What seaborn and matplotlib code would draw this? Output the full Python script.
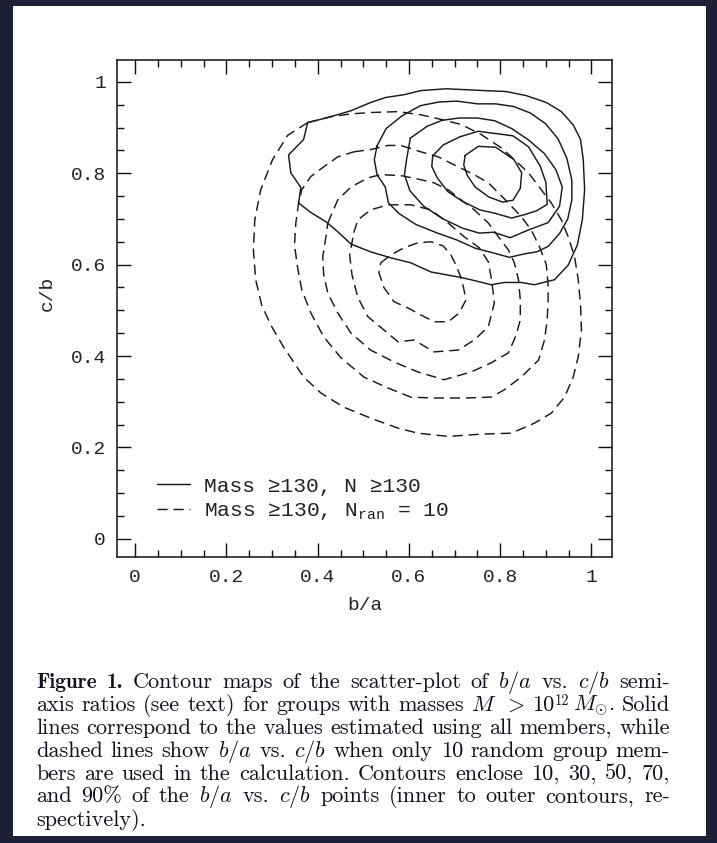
import re
import matplotlib
matplotlib.use("Agg")
import matplotlib.pyplot as plt
from matplotlib.lines import Line2D
from matplotlib.patches import Rectangle
from matplotlib.ticker import MultipleLocator, FuncFormatter
import pandas as pd
import seaborn as sns

# ---- contour data: (b/a, c/b) vertices of each enclosing contour ----
# all members (solid), levels enclose 10, 30, 50, 70, 90 per cent
solid_10_ba = [0.723, 0.752, 0.790, 0.830, 0.847, 0.844, 0.828, 0.805, 0.775, 0.745, 0.728, 0.720]
solid_10_cb = [0.839, 0.859, 0.857, 0.830, 0.801, 0.767, 0.741, 0.737, 0.748, 0.770, 0.795, 0.818]

solid_30_ba = [0.652, 0.675, 0.712, 0.752, 0.790, 0.828, 0.862, 0.888, 0.900, 0.903, 0.880, 0.855,
               0.825, 0.790, 0.755, 0.718, 0.685, 0.662, 0.650]
solid_30_cb = [0.838, 0.862, 0.880, 0.892, 0.887, 0.882, 0.858, 0.815, 0.780, 0.732, 0.718, 0.710,
               0.702, 0.712, 0.720, 0.738, 0.760, 0.790, 0.815]

solid_50_ba = [0.603, 0.640, 0.673, 0.710, 0.750, 0.788, 0.825, 0.862, 0.897, 0.922, 0.936, 0.930,
               0.905, 0.862, 0.822, 0.785, 0.754, 0.717, 0.675, 0.632, 0.602, 0.590, 0.595]
solid_50_cb = [0.877, 0.903, 0.916, 0.921, 0.921, 0.915, 0.898, 0.873, 0.843, 0.808, 0.770, 0.728,
               0.692, 0.676, 0.659, 0.671, 0.669, 0.680, 0.700, 0.728, 0.762, 0.797, 0.832]

solid_70_ba = [0.530, 0.550, 0.585, 0.625, 0.665, 0.705, 0.750, 0.790, 0.830, 0.866, 0.900, 0.927,
               0.946, 0.957, 0.957, 0.948, 0.930, 0.905, 0.880, 0.855, 0.820, 0.780, 0.745, 0.705,
               0.660, 0.615, 0.578, 0.555, 0.548, 0.530, 0.524]
solid_70_cb = [0.860, 0.898, 0.926, 0.948, 0.956, 0.958, 0.952, 0.952, 0.946, 0.932, 0.908, 0.875,
               0.833, 0.785, 0.742, 0.700, 0.668, 0.640, 0.628, 0.624, 0.616, 0.627, 0.636, 0.654,
               0.670, 0.688, 0.712, 0.735, 0.770, 0.797, 0.830]

solid_90_ba = [0.378, 0.422, 0.473, 0.516, 0.549, 0.589, 0.626, 0.681, 0.725, 0.765, 0.813, 0.857,
               0.901, 0.934, 0.960, 0.976, 0.982, 0.985, 0.980, 0.969, 0.949, 0.919, 0.875, 0.846,
               0.809, 0.780, 0.736, 0.708, 0.648, 0.604, 0.560, 0.516, 0.473, 0.444, 0.418, 0.385,
               0.358, 0.363, 0.341, 0.336, 0.369]
solid_90_cb = [0.911, 0.922, 0.937, 0.955, 0.966, 0.972, 0.981, 0.985, 0.983, 0.981, 0.979, 0.970,
               0.955, 0.935, 0.906, 0.874, 0.830, 0.764, 0.698, 0.643, 0.599, 0.567, 0.556, 0.561,
               0.561, 0.556, 0.567, 0.573, 0.584, 0.604, 0.615, 0.628, 0.645, 0.672, 0.694, 0.714,
               0.735, 0.769, 0.801, 0.840, 0.874]

# ten random members (dashed)
dashed_10_ba = [0.538, 0.560, 0.589, 0.620, 0.648, 0.675, 0.692, 0.703, 0.716, 0.725, 0.710, 0.686,
                0.655, 0.626, 0.598, 0.567, 0.545, 0.534]
dashed_10_cb = [0.604, 0.621, 0.637, 0.648, 0.650, 0.641, 0.621, 0.599, 0.567, 0.523, 0.494, 0.475,
                0.475, 0.490, 0.505, 0.519, 0.550, 0.583]

dashed_30_ba = [0.479, 0.488, 0.516, 0.554, 0.604, 0.648, 0.686, 0.721, 0.754, 0.774, 0.782, 0.787,
                0.774, 0.743, 0.708, 0.655, 0.611, 0.576, 0.545, 0.510, 0.488, 0.475, 0.470]
dashed_30_cb = [0.670, 0.698, 0.720, 0.731, 0.731, 0.720, 0.691, 0.661, 0.637, 0.606, 0.561, 0.516,
                0.464, 0.435, 0.413, 0.409, 0.435, 0.431, 0.457, 0.486, 0.528, 0.578, 0.621]

dashed_50_ba = [0.422, 0.444, 0.473, 0.510, 0.538, 0.582, 0.626, 0.655, 0.686, 0.714, 0.743, 0.774,
                0.796, 0.818, 0.831, 0.840, 0.844, 0.844, 0.835, 0.818, 0.780, 0.736, 0.677, 0.620,
                0.567, 0.516, 0.473, 0.444, 0.422, 0.413, 0.411, 0.418]
dashed_50_cb = [0.691, 0.742, 0.770, 0.790, 0.797, 0.795, 0.786, 0.779, 0.764, 0.742, 0.720, 0.691,
                0.661, 0.632, 0.604, 0.567, 0.523, 0.479, 0.446, 0.407, 0.385, 0.365, 0.348, 0.365,
                0.387, 0.413, 0.450, 0.494, 0.538, 0.578, 0.617, 0.661]

dashed_70_ba = [0.479, 0.516, 0.554, 0.582, 0.626, 0.664, 0.708, 0.743, 0.774, 0.796, 0.818, 0.846,
                0.868, 0.886, 0.901, 0.905, 0.905, 0.903, 0.897, 0.884, 0.846, 0.809, 0.780, 0.721,
                0.655, 0.604, 0.554, 0.501, 0.451, 0.413, 0.385, 0.365, 0.356, 0.349, 0.352, 0.358,
                0.365, 0.385, 0.413, 0.444]
dashed_70_cb = [0.847, 0.852, 0.861, 0.861, 0.847, 0.836, 0.814, 0.797, 0.779, 0.757, 0.735, 0.705,
                0.676, 0.639, 0.600, 0.555, 0.523, 0.479, 0.435, 0.391, 0.354, 0.326, 0.310, 0.308,
                0.308, 0.310, 0.330, 0.354, 0.396, 0.442, 0.494, 0.545, 0.593, 0.643, 0.691, 0.735,
                0.764, 0.793, 0.814, 0.836]

dashed_90_ba = [0.378, 0.429, 0.473, 0.516, 0.576, 0.626, 0.670, 0.714, 0.758, 0.802, 0.831, 0.862,
                0.890, 0.912, 0.934, 0.949, 0.963, 0.971, 0.976, 0.978, 0.971, 0.960, 0.941, 0.912,
                0.875, 0.824, 0.758, 0.686, 0.620, 0.576, 0.516, 0.457, 0.407, 0.369, 0.325, 0.297,
                0.277, 0.264, 0.259, 0.262, 0.275, 0.301, 0.334]
dashed_90_cb = [0.911, 0.924, 0.930, 0.933, 0.935, 0.928, 0.918, 0.907, 0.885, 0.856, 0.830, 0.801,
                0.764, 0.735, 0.698, 0.661, 0.617, 0.567, 0.512, 0.457, 0.398, 0.354, 0.310, 0.275,
                0.253, 0.231, 0.229, 0.224, 0.231, 0.242, 0.264, 0.288, 0.319, 0.354, 0.420, 0.468,
                0.512, 0.567, 0.632, 0.698, 0.764, 0.830, 0.883]

levels = [10, 30, 50, 70, 90]
solid_sets = [(solid_10_ba, solid_10_cb), (solid_30_ba, solid_30_cb), (solid_50_ba, solid_50_cb),
              (solid_70_ba, solid_70_cb), (solid_90_ba, solid_90_cb)]
dashed_sets = [(dashed_10_ba, dashed_10_cb), (dashed_30_ba, dashed_30_cb), (dashed_50_ba, dashed_50_cb),
               (dashed_70_ba, dashed_70_cb), (dashed_90_ba, dashed_90_cb)]

tick_values = [0, 0.2, 0.4, 0.6, 0.8, 1.0]
legend_labels = ["Mass \u2265130, N \u2265130", "Mass \u2265130, N$_\\mathrm{ran}$ = 10"]
x_label, y_label = "b/a", "c/b"

# caption markup: {^..} is a raised superscript, ~ a thin space inside a word
caption_head = ["Figure", "1."]
caption_lines = [
    "Contour maps of the scatter-plot of $b/a$ vs. $c/b$ semi-",
    "axis ratios (see text) for groups with masses $M$ $>$ 10{^12}~$M_{\\odot}$. Solid",
    "lines correspond to the values estimated using all members, while",
    "dashed lines show $b/a$ vs. $c/b$ when only 10 random group mem-",
    "bers are used in the calculation. Contours enclose 10, 30, 50, 70,",
    "and 90% of the $b/a$ vs. $c/b$ points (inner to outer contours, re-",
    "spectively).",
]


def rings(sets):
    frames = []
    for lev, (ba, cb) in zip(levels, sets):
        frames.append(pd.DataFrame({"b/a": list(ba) + [ba[0]],
                                    "c/b": list(cb) + [cb[0]],
                                    "level": lev}))
    return pd.concat(frames, ignore_index=True)


solid_df = rings(solid_sets)
dashed_df = rings(dashed_sets)

# ---- style ----
sns.set_theme(style="ticks")
mono = "Liberation Mono"
plt.rcParams.update({
    "font.family": [mono, "DejaVu Sans"],
    "mathtext.fontset": "custom",
    "mathtext.rm": mono,
    "mathtext.it": mono,
    "axes.linewidth": 1.1,
    "axes.edgecolor": "#111111",
})

ink = "#1a1a1a"
dash = (0, (7, 4))
W, H = 717, 843
fig = plt.figure(figsize=(W / 100, H / 100), dpi=100)
fig.patch.set_facecolor("#1e2037")
fig.add_artist(Rectangle((13 / W, 1 - 836 / H), (706 - 13) / W, (836 - 6) / H,
                         transform=fig.transFigure, facecolor="white", edgecolor="none", zorder=0))

ax = fig.add_axes([117 / W, 1 - 557 / H, (612 - 117) / W, (557 - 60) / H])
ax.set_facecolor("white")

sns.lineplot(data=solid_df, x="b/a", y="c/b", units="level", estimator=None, sort=False,
             color=ink, linewidth=1.05, ax=ax)
sns.lineplot(data=dashed_df, x="b/a", y="c/b", units="level", estimator=None, sort=False,
             color=ink, linewidth=1.05, linestyle=dash, ax=ax)

ax.set_xlim(-0.04, 1.045)
ax.set_ylim(-0.04, 1.048)
for axis in (ax.xaxis, ax.yaxis):
    axis.set_major_locator(MultipleLocator(0.2))
    axis.set_minor_locator(MultipleLocator(0.05))
    axis.set_major_formatter(FuncFormatter(lambda v, p: f"{v:g}"))
ax.set_xticks(tick_values)
ax.set_yticks(tick_values)
ax.tick_params(which="both", direction="in", top=True, right=True, colors="#111111",
               labelcolor="#222222", labelsize=14)
ax.tick_params(which="major", length=10, width=1.0)
ax.tick_params(which="minor", length=5, width=1.0)
ax.tick_params(axis="x", pad=9)
ax.tick_params(axis="y", pad=8)

ax.set_xlabel(x_label, fontsize=14, color="#222222")
ax.set_ylabel(y_label, fontsize=14, color="#222222")
ax.xaxis.set_label_coords(0.5, -0.08)
ax.yaxis.set_label_coords(-0.123, 0.53)

handles = [Line2D([], [], color=ink, lw=1.05), Line2D([], [], color=ink, lw=1.05, linestyle=dash)]
leg = ax.legend(handles, legend_labels, loc="lower left", bbox_to_anchor=(0.081, 0.070),
                frameon=False, borderpad=0, borderaxespad=0, handlelength=1.55,
                handletextpad=0.66, labelspacing=0.25, prop={"family": mono, "size": 15.3})
for t in leg.get_texts():
    t.set_color("#222222")

# ---- justified caption ----
cap_size = 16.0
head_size = 15.3
cap_ink = "#101020"
cap_left, cap_right = 36, 670
base0, lead = 688, 22.9
em_px = cap_size * 100 / 72
thin_px = 0.17 * em_px


def word_pieces(token, family, size):
    """Split a caption word into plain runs, raised superscripts and thin kerns."""
    pieces, pos = [], 0
    for m in re.finditer(r"\{\^([^}]*)\}|~", token):
        if m.start() > pos:
            pieces.append((token[pos:m.start()], family, size, 0.0))
        if m.group(0) == "~":
            pieces.append((None, family, size, 0.0))
        else:
            pieces.append((m.group(1), family, size * 0.65, 0.26))
        pos = m.end()
    if pos < len(token):
        pieces.append((token[pos:], family, size, 0.0))
    return pieces


rows = [[word_pieces(w, "cmb10", head_size) for w in caption_head]
        + [word_pieces(w, "cmr10", cap_size) for w in caption_lines[0].split(" ")]]
rows += [[word_pieces(w, "cmr10", cap_size) for w in line.split(" ")] for line in caption_lines[1:]]

renderer = fig.canvas.get_renderer()
space_px = 0.333 * em_px
for i, row in enumerate(rows):
    base_px = base0 + i * lead
    placed = []  # per word: list of (text artist or None, width, rise)
    for word in row:
        items = []
        for txt, fam, size, rise in word:
            if txt is None:
                items.append((None, thin_px, 0.0))
                continue
            t = fig.text(0, 0, txt, family=fam, fontsize=size, color=cap_ink, ha="left",
                         va="baseline", math_fontfamily="cm")
            items.append((t, t.get_window_extent(renderer=renderer).width, rise))
        placed.append(items)
    word_w = [sum(w for _, w, _ in items) for items in placed]
    if i == len(rows) - 1:
        gap = space_px
    else:
        gap = (cap_right - cap_left - sum(word_w)) / (len(placed) - 1)
    x = cap_left
    for items, ww in zip(placed, word_w):
        xx = x
        for t, w, rise in items:
            if t is not None:
                t.set_position((xx / W, 1 - (base_px - rise * em_px) / H))
            xx += w
        x += ww + gap

fig.savefig("out.png", dpi=100, facecolor=fig.get_facecolor())
